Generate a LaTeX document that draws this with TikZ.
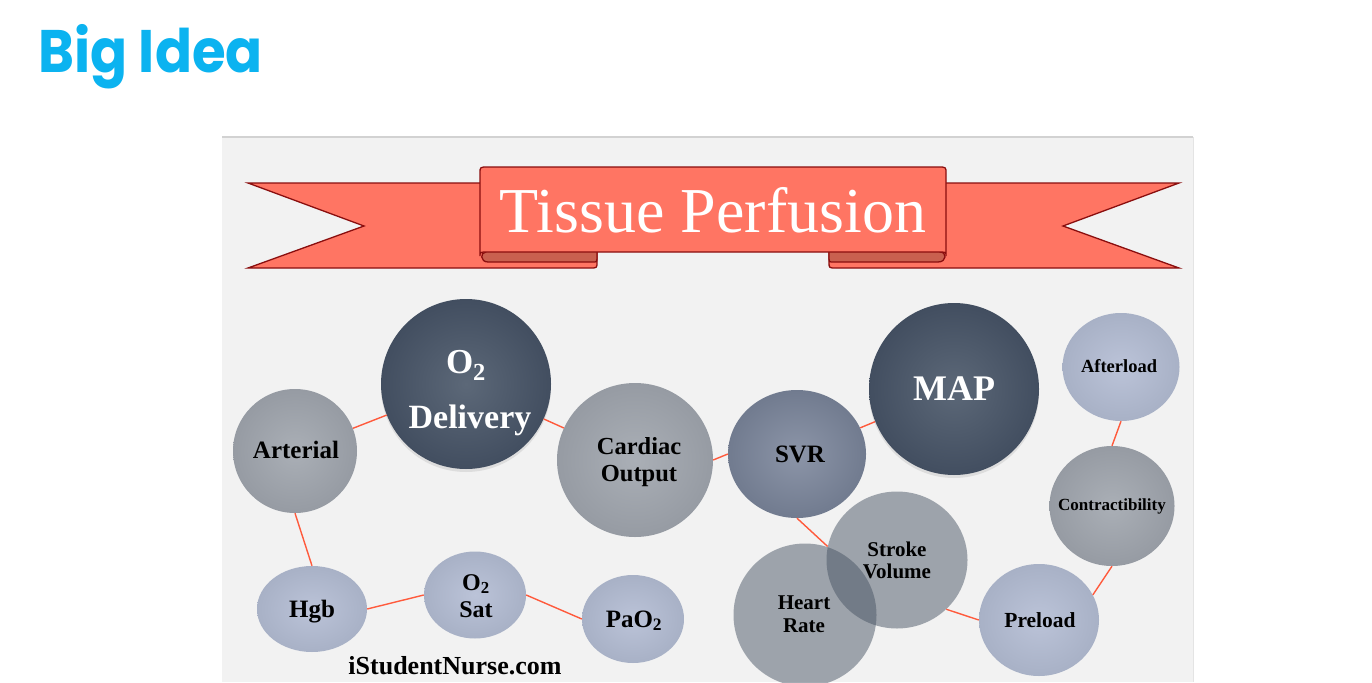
\documentclass[tikz,border=0pt]{standalone}
\usepackage{fontspec}
\setmainfont{Liberation Serif}
\newfontfamily\bigfont{Poppins}
\usetikzlibrary{shapes.geometric,shadows}
\definecolor{ideablue}{HTML}{0BB3F0}
\definecolor{panelbg}{HTML}{F2F2F2}
\definecolor{panelline}{HTML}{D2D2D2}
\definecolor{ribbon}{HTML}{FF7563}
\definecolor{ribbonfold}{HTML}{C9604F}
\definecolor{ribbonline}{HTML}{8A0E0E}
\definecolor{linkred}{HTML}{FF5A3C}
\definecolor{darkin}{HTML}{5C6878}
\definecolor{darkout}{HTML}{424E60}
\definecolor{grayin}{HTML}{AAAFB6}
\definecolor{grayout}{HTML}{969BA3}
\definecolor{svrin}{HTML}{8C95A8}
\definecolor{svrout}{HTML}{717B8F}
\definecolor{lightin}{HTML}{BBC3D8}
\definecolor{lightout}{HTML}{A8B1C6}
\definecolor{glass}{RGB}{70,82,98}
\newcommand\fsz[1]{\fontsize{#1}{#1}\selectfont}
\tikzset{
  ribbonpart/.style={fill=ribbon, draw=ribbonline, line width=1.3},
  foldpart/.style={fill=ribbonfold, draw=ribbonline, line width=1.3},
  bubble/.style={ellipse, inner sep=0, draw=none},
  darkbubble/.style={bubble, shading=radial, inner color=darkin, outer color=darkout,
     drop shadow={shadow xshift=0pt, shadow yshift=-3pt, opacity=0.18}},
  graybubble/.style={bubble, shading=radial, inner color=grayin, outer color=grayout},
  svrbubble/.style={bubble, shading=radial, inner color=svrin, outer color=svrout},
  lightbubble/.style={bubble, shading=radial, inner color=lightin, outer color=lightout},
  glassbubble/.style={bubble, fill=glass, fill opacity=0.49},
  link/.style={draw=linkred, line width=1.4},
  lab/.style={inner sep=0, anchor=base, text=black},
}
\begin{document}
\begin{tikzpicture}[x=1pt,y=-1pt]
\useasboundingbox (0,0) rectangle (1372,682);
\fill[white] (0,0) rectangle (1372,682);
\fill[panelbg] (222,137) rectangle (1193,682);
\draw[panelline, line width=1.5] (222,137) -- (1193,137);
\draw[panelline!60, line width=1] (1193,137) -- (1193,682);

% title
\node[inner sep=0, anchor=base west, text=ideablue, font=\bigfont\bfseries\fsz{60}] (bigidea) at (38,73) {\scalebox{0.91}[1]{Big Idea}};

% ribbon
\path[ribbonpart] (248,183) -- (597,183) -- (597,262) .. controls (597,268) .. (590,268) -- (248,268) -- (364,226) -- cycle;
\path[ribbonpart] (1179,183) -- (829,183) -- (829,262) .. controls (829,268) .. (836,268) -- (1179,268) -- (1063,226) -- cycle;
\path[foldpart] (597,250) -- (597,259) .. controls (597,262) .. (592,262) -- (488,262) .. controls (480,262) and (480,252) .. (486,252) -- (486,250) -- cycle;
\path[foldpart] (829,250) -- (829,259) .. controls (829,262) .. (834,262) -- (938,262) .. controls (947,262) and (947,252) .. (940,252) -- (940,250) -- cycle;
\path[ribbonpart] (480,256) -- (480,173) .. controls (480,167) .. (488,167) -- (938,167) .. controls (946,167) .. (946,173) -- (946,256) .. controls (946,252) .. (938,252) -- (488,252) .. controls (480,252) .. (480,256) -- cycle;
\node[inner sep=0, anchor=base, text=white, font=\fsz{64}] (title) at (713,232) {Tissue Perfusion};

% bubbles
\node[darkbubble, minimum width=170pt, minimum height=170pt] (o2del) at (466,384) {};
\node[graybubble, minimum width=124pt, minimum height=124pt] (arterial) at (295,451) {};
\node[graybubble, minimum width=156pt, minimum height=154pt] (cardiac) at (635,460) {};
\node[lightbubble, minimum width=110pt, minimum height=86pt] (hgb) at (312,609) {};
\node[lightbubble, minimum width=102pt, minimum height=87pt] (o2sat) at (475,595) {};
\node[lightbubble, minimum width=102pt, minimum height=88pt] (pao2) at (633,619) {};
\node[darkbubble, minimum width=170pt, minimum height=172pt] (map) at (954,389) {};
\node[svrbubble, minimum width=138pt, minimum height=128pt] (svr) at (797,454) {};
\node[lightbubble, minimum width=117pt, minimum height=108pt] (afterload) at (1121,367) {};
\node[graybubble, minimum width=125pt, minimum height=120pt] (contract) at (1112,506) {};
\node[lightbubble, minimum width=120pt, minimum height=112pt] (preload) at (1039,620) {};
\node[glassbubble, minimum width=143pt, minimum height=143pt] (heart) at (805,615) {};
\node[glassbubble, minimum width=141pt, minimum height=137pt] (stroke) at (897,560) {};

% connectors
\draw[link] (arterial) -- (o2del);
\draw[link] (o2del) -- (cardiac);
\draw[link] (arterial.south) -- (hgb.north);
\draw[link] (hgb.east) -- (o2sat.west);
\draw[link] (o2sat.east) -- (pao2.west);
\draw[link] (cardiac.east) -- (svr.west);
\draw[link] (svr) -- (map);
\draw[link] (svr.south) -- (stroke.169);
\draw[link] (stroke.-45) -- (preload.west);
\draw[link] (preload.25) -- (contract.south);
\draw[link] (contract.north) -- (afterload.south);

% labels
\node[lab, text=white, font=\bfseries\fsz{35}] (t-o2) at (466,373) {O\textsubscript{2}};
\node[lab, text=white, font=\bfseries\fsz{34}] (t-delivery) at (470,428) {Delivery};
\node[lab, text=white, font=\bfseries\fsz{36}] (t-map) at (954,400) {MAP};
\node[lab, font=\bfseries\fsz{25}] (t-arterial) at (296,458) {Arterial};
\node[lab, font=\bfseries\fsz{24.5}] (t-cardiac) at (639,454) {Cardiac};
\node[lab, font=\bfseries\fsz{24.5}] (t-output) at (639,481) {Output};
\node[lab, font=\bfseries\fsz{25}] (t-svr) at (800,462) {SVR};
\node[lab, font=\bfseries\fsz{25}] (t-hgb) at (312,617) {Hgb};
\node[lab, font=\bfseries\fsz{24}] (t-o2s) at (476,590) {O\textsubscript{2}};
\node[lab, font=\bfseries\fsz{24}] (t-sat) at (476,617) {Sat};
\node[lab, font=\bfseries\fsz{25}] (t-pao2) at (634,627) {PaO\textsubscript{2}};
\node[lab, font=\bfseries\fsz{18.5}] (t-afterload) at (1119,372) {Afterload};
\node[lab, font=\bfseries\fsz{17}] (t-contract) at (1112,510) {Contractibility};
\node[lab, font=\bfseries\fsz{21}] (t-stroke) at (897,556) {Stroke};
\node[lab, font=\bfseries\fsz{21}] (t-volume) at (897,578) {Volume};
\node[lab, font=\bfseries\fsz{21}] (t-heart) at (804,609) {Heart};
\node[lab, font=\bfseries\fsz{21}] (t-rate) at (804,632) {Rate};
\node[lab, font=\bfseries\fsz{21.5}] (t-preload) at (1040,627) {Preload};
\node[lab, font=\bfseries\fsz{26}] (t-site) at (455,674) {iStudentNurse.com};
\end{tikzpicture}
\end{document}
